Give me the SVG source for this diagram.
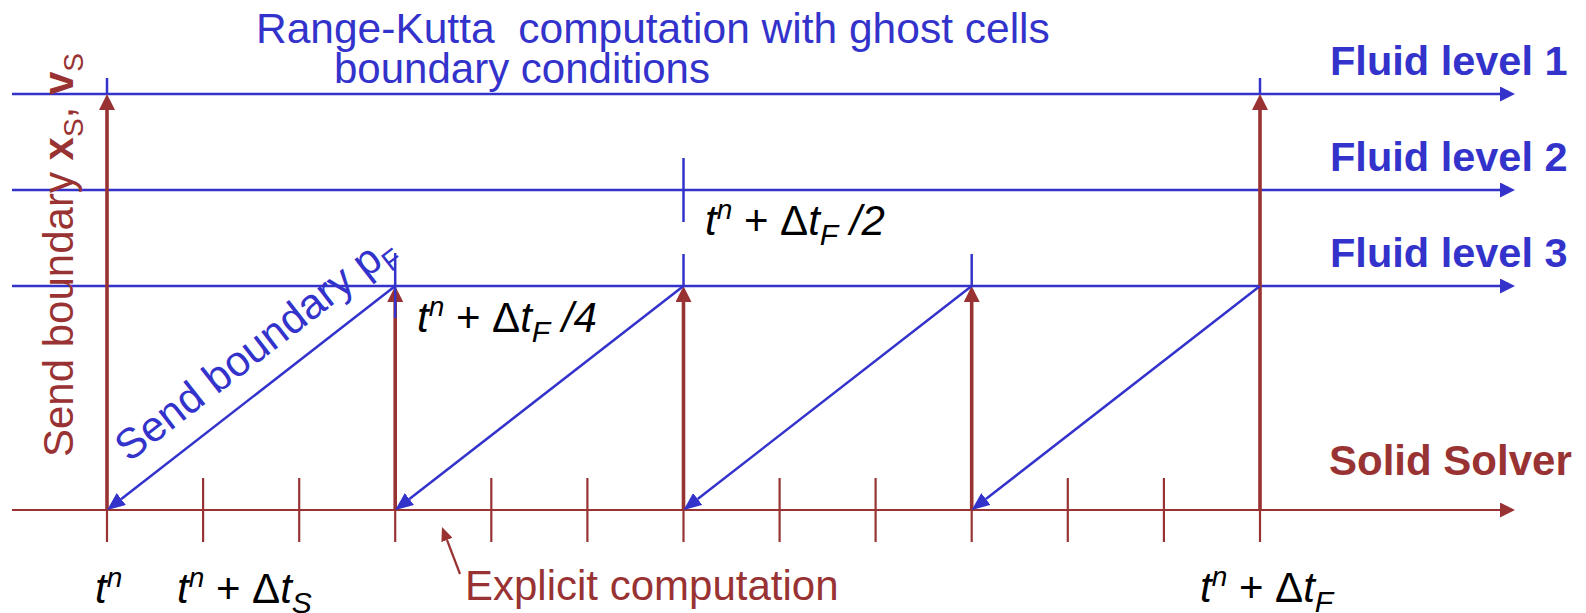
<svg xmlns="http://www.w3.org/2000/svg" width="1586" height="613" viewBox="0 0 1586 613">
<defs>
<style>
text{font-family:"Liberation Sans",Arial,Helvetica,sans-serif;white-space:pre}
.blue{fill:#3333cc}
.red{fill:#993333}
.blk{fill:#000}
.bold{font-weight:bold}
.i{font-style:italic}
.sup{font-size:28px}
.sub{font-size:30px}
.lb{stroke:#3333cc;stroke-width:2.5;fill:none}
.lr{stroke:#993333;stroke-width:2.2;fill:none}
.ar{stroke:#993333;stroke-width:3.6;fill:none}
.tick{stroke:#993333;stroke-width:2.2}
.btick{stroke:#3333cc;stroke-width:2.5}
</style>
<marker id="hb" markerUnits="userSpaceOnUse" markerWidth="15" markerHeight="15" refX="0" refY="7.5" orient="auto" viewBox="0 0 15 15"><path d="M0,0 L15,7.5 L0,15 z" fill="#3333cc"/></marker>
<marker id="hr" markerUnits="userSpaceOnUse" markerWidth="15" markerHeight="15" refX="0" refY="7.5" orient="auto" viewBox="0 0 15 15"><path d="M0,0 L15,7.5 L0,15 z" fill="#993333"/></marker>
<marker id="vr" markerUnits="userSpaceOnUse" markerWidth="16" markerHeight="16" refX="0" refY="8" orient="auto" viewBox="0 0 16 16"><path d="M0,0 L16,8 L0,16 z" fill="#993333"/></marker>
<marker id="db" markerUnits="userSpaceOnUse" markerWidth="18" markerHeight="15" refX="0" refY="7.5" orient="auto" viewBox="0 0 18 15"><path d="M0,0 L18,7.5 L0,15 z" fill="#3333cc"/></marker>
<marker id="er" markerUnits="userSpaceOnUse" markerWidth="14" markerHeight="12" refX="0" refY="6" orient="auto" viewBox="0 0 14 12"><path d="M0,0 L14,6 L0,12 z" fill="#993333"/></marker>
</defs>
<rect width="1586" height="613" fill="#fff"/>

<g id="connectors">
  <line class="lb" x1="12" y1="94" x2="1500" y2="94" marker-end="url(#hb)"/>
  <line class="lb" x1="12" y1="190" x2="1500" y2="190" marker-end="url(#hb)"/>
  <line class="lb" x1="12" y1="286" x2="1500" y2="286" marker-end="url(#hb)"/>
  <line class="btick" x1="107" y1="78" x2="107" y2="94"/>
  <line class="btick" x1="1260" y1="78" x2="1260" y2="94"/>
  <line class="btick" x1="683.5" y1="158" x2="683.5" y2="222"/>
  <line class="btick" x1="683.5" y1="254" x2="683.5" y2="286"/>
  <line class="btick" x1="971.7" y1="254" x2="971.7" y2="286"/>
  <line class="lr" x1="12" y1="510" x2="1500" y2="510" marker-end="url(#hr)"/>
  <g class="tick">
    <line x1="107" y1="510" x2="107" y2="542"/>
    <line x1="203.1" y1="478" x2="203.1" y2="542"/>
    <line x1="299.2" y1="478" x2="299.2" y2="542"/>
    <line x1="395.2" y1="478" x2="395.2" y2="542"/>
    <line x1="491.3" y1="478" x2="491.3" y2="542"/>
    <line x1="587.4" y1="478" x2="587.4" y2="542"/>
    <line x1="683.5" y1="478" x2="683.5" y2="542"/>
    <line x1="779.6" y1="478" x2="779.6" y2="542"/>
    <line x1="875.6" y1="478" x2="875.6" y2="542"/>
    <line x1="971.7" y1="478" x2="971.7" y2="542"/>
    <line x1="1067.8" y1="478" x2="1067.8" y2="542"/>
    <line x1="1163.9" y1="478" x2="1163.9" y2="542"/>
    <line x1="1260" y1="478" x2="1260" y2="542"/>
  </g>
  <line class="ar" x1="107" y1="510" x2="107" y2="110" marker-end="url(#vr)"/>
  <line class="ar" x1="395.2" y1="510" x2="395.2" y2="302" marker-end="url(#vr)"/>
  <line class="ar" x1="683.5" y1="510" x2="683.5" y2="302" marker-end="url(#vr)"/>
  <line class="ar" x1="971.7" y1="510" x2="971.7" y2="302" marker-end="url(#vr)"/>
  <line class="ar" x1="1260" y1="510" x2="1260" y2="110" marker-end="url(#vr)"/>
  <line class="btick" x1="395.2" y1="253" x2="395.2" y2="318"/>
  <line class="lb" x1="395.2" y1="286" x2="121.3" y2="499" marker-end="url(#db)"/>
  <line class="lb" x1="683.5" y1="286" x2="409.4" y2="499" marker-end="url(#db)"/>
  <line class="lb" x1="971.7" y1="286" x2="697.7" y2="499" marker-end="url(#db)"/>
  <line class="lb" x1="1260" y1="286" x2="985.9" y2="499" marker-end="url(#db)"/>
  <line class="lr" stroke-width="2.8" x1="460" y1="574" x2="447" y2="540" marker-end="url(#er)"/>
</g>

<g id="title">
  <text class="blue" x="256" y="43" font-size="42.5">Range-Kutta  computation with ghost cells</text>
  <text class="blue" x="334" y="83" font-size="42">boundary conditions</text>
</g>
<g id="fluid-level-1"><text class="blue bold" x="1330" y="75" font-size="41.5">Fluid level 1</text></g>
<g id="fluid-level-2"><text class="blue bold" x="1330" y="171" font-size="41.5">Fluid level 2</text></g>
<g id="fluid-level-3"><text class="blue bold" x="1330" y="267" font-size="41.5">Fluid level 3</text></g>
<g id="solid-solver"><text class="red bold" x="1329" y="475" font-size="42">Solid Solver</text></g>

<g id="send-xs-vs"><text class="red" font-size="42" transform="translate(73,457) rotate(-90)">Send boundary <tspan class="bold">x</tspan><tspan font-size="28" dy="10">S</tspan><tspan dy="-10">, </tspan><tspan class="bold">v</tspan><tspan font-size="28" dy="10">S</tspan></text></g>
<g id="send-pf"><text class="blue" font-size="42.5" transform="translate(129,463) rotate(-37.8)">Send boundary p<tspan font-size="28" dy="10">F</tspan></text></g>

<g id="explicit"><text class="red" x="465" y="600" font-size="42">Explicit computation</text></g>

<g id="label-tn"><text class="blk" x="95" y="603" font-size="42"><tspan class="i">t</tspan><tspan class="i sup" dy="-16">n</tspan></text></g>
<g id="label-tn-dts"><text class="blk" x="177" y="603" font-size="42"><tspan class="i">t</tspan><tspan class="i sup" dy="-16">n</tspan><tspan dy="16"> + Δ</tspan><tspan class="i">t</tspan><tspan class="i sub" dy="10">S</tspan></text></g>
<g id="label-tn-dtf4"><text class="blk" x="417" y="332" font-size="42"><tspan class="i">t</tspan><tspan class="i sup" dy="-16">n</tspan><tspan dy="16"> + Δ</tspan><tspan class="i">t</tspan><tspan class="i sub" dy="10">F</tspan><tspan class="i" dy="-10"> /4</tspan></text></g>
<g id="label-tn-dtf2"><text class="blk" x="705" y="235" font-size="42"><tspan class="i">t</tspan><tspan class="i sup" dy="-16">n</tspan><tspan dy="16"> + Δ</tspan><tspan class="i">t</tspan><tspan class="i sub" dy="10">F</tspan><tspan class="i" dy="-10"> /2</tspan></text></g>
<g id="label-tn-dtf"><text class="blk" x="1200" y="602" font-size="42"><tspan class="i">t</tspan><tspan class="i sup" dy="-16">n</tspan><tspan dy="16"> + Δ</tspan><tspan class="i">t</tspan><tspan class="i sub" dy="10">F</tspan></text></g>
</svg>
